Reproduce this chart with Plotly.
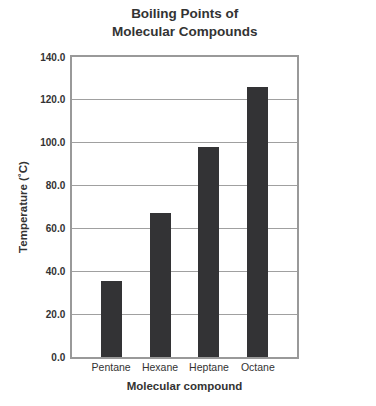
import plotly.graph_objects as go

compounds = ["Pentane", "Hexane", "Heptane", "Octane"]
boiling_points = [35.3, 67.3, 97.8, 125.8]
y_ticks = [0, 20, 40, 60, 80, 100, 120, 140]
y_tick_labels = [f"<b>{v:.1f}</b>" for v in y_ticks]
title_text = "<b>Boiling Points of<br>Molecular Compounds</b>"

fig = go.Figure()
fig.add_trace(go.Bar(
    x=list(range(len(compounds))),
    y=boiling_points,
    marker=dict(color="#333335", line=dict(width=0)),
    width=0.43,
))

font_family = "Liberation Sans, Arial, sans-serif"
fig.update_layout(
    width=376, height=406,
    margin=dict(l=72, r=79, t=57, b=49),
    paper_bgcolor="white",
    plot_bgcolor="white",
    showlegend=False,
    font=dict(family=font_family, color="#333333"),
    xaxis=dict(
        range=[-0.8, 3.8],
        tickmode="array",
        tickvals=list(range(len(compounds))),
        ticktext=compounds,
        showgrid=False,
        zeroline=False,
        showline=True, linecolor="#999999", linewidth=1.5, mirror=True,
        ticks="",
        tickfont=dict(size=10.5, color="#333333"),
        title=dict(text="<b>Molecular compound</b>", font=dict(size=11.5, color="#333333"), standoff=10),
    ),
    yaxis=dict(
        range=[0, 140],
        tickmode="array",
        tickvals=y_ticks,
        ticktext=y_tick_labels,
        showgrid=True, gridcolor="#a0a0a0", gridwidth=1.3,
        zeroline=False,
        showline=True, linecolor="#999999", linewidth=1.5, mirror=True,
        ticks="",
        ticklabelstandoff=3,
        tickfont=dict(size=10, color="#333333"),
        title=dict(text="<b>Temperature (˚C)</b>", font=dict(size=11.5, color="#333333"), standoff=10),
    ),
    bargap=0,
    annotations=[dict(
        text=title_text, xref="paper", yref="paper",
        x=0.5, y=1.177, xanchor="center", yanchor="top",
        showarrow=False, align="center",
        font=dict(size=13.5, color="#333333", family=font_family),
    )],
)

fig.write_html("out.html", config={"displayModeBar": False},
               post_script="document.body.style.margin='0';")
